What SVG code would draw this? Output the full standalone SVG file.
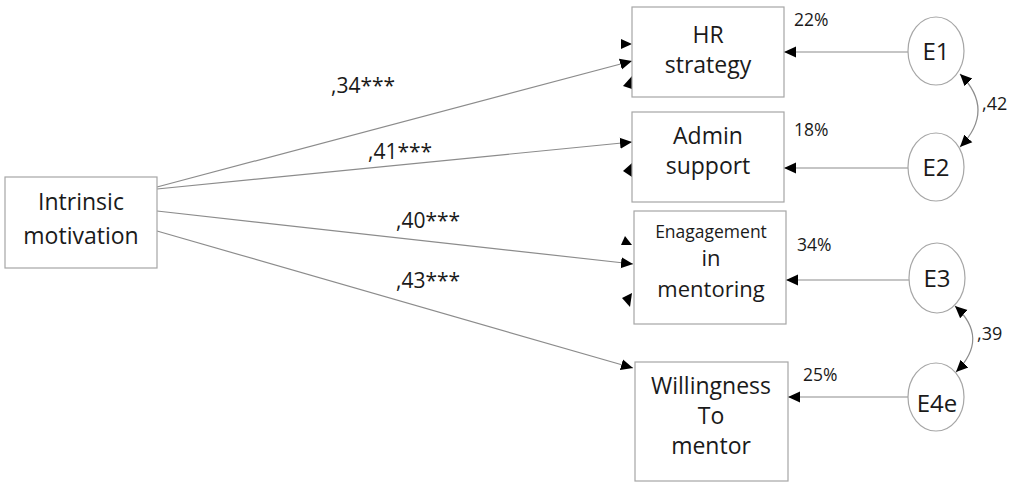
<svg xmlns="http://www.w3.org/2000/svg" width="1016" height="482" viewBox="0 0 1016 482">
<style>
.box{fill:#fff;stroke:#a6a6a6;stroke-width:1.2}
.ell{fill:#fff;stroke:#a6a6a6;stroke-width:1.2}
.t{font-family:"Open Sans","Liberation Sans",sans-serif;fill:#1a1a1a;text-anchor:middle}
.lbl{font-family:"Open Sans","Liberation Sans",sans-serif;fill:#1a1a1a}
.ln{fill:none;stroke:#8c8c8c;stroke-width:1.2}
.stray{fill:#000}
</style>
<defs>
<marker id="ah" markerUnits="userSpaceOnUse" markerWidth="13" markerHeight="13" viewBox="0 0 13 13" refX="12" refY="6.5" orient="auto-start-reverse">
<path d="M0,1 L12,6.5 L0,12 Z" fill="#000"/>
</marker>
</defs>
<rect width="1016" height="482" fill="#fff"/>
<g id="connectors">
<line class="ln" x1="157" y1="187" x2="632" y2="61" marker-end="url(#ah)"/>
<line class="ln" x1="157" y1="189" x2="632" y2="142" marker-end="url(#ah)"/>
<line class="ln" x1="157" y1="211" x2="633" y2="264" marker-end="url(#ah)"/>
<line class="ln" x1="157" y1="231" x2="633" y2="368" marker-end="url(#ah)"/>
<line class="ln" x1="908" y1="52" x2="784" y2="52" marker-end="url(#ah)"/>
<line class="ln" x1="908" y1="168" x2="784" y2="168" marker-end="url(#ah)"/>
<line class="ln" x1="909" y1="280" x2="786" y2="280" marker-end="url(#ah)"/>
<line class="ln" x1="908" y1="397" x2="788" y2="397" marker-end="url(#ah)"/>
<path class="ln" d="M960,74 Q996,110 960,147" marker-start="url(#ah)" marker-end="url(#ah)"/>
<path class="ln" d="M955,306 Q990,338 956,372" marker-start="url(#ah)" marker-end="url(#ah)"/>
<polygon class="stray" points="621,39 632,44 621,49"/>
<polygon class="stray" points="623,86 632,76 632,89"/>
<polygon class="stray" points="623,171 632,163 632,177"/>
<polygon class="stray" points="621,245 632,245 625,236"/>
<polygon class="stray" points="622,298 632,293 630,307"/>
<text class="lbl" x="331" y="93" font-size="21">,34***</text>
<text class="lbl" x="368" y="159" font-size="21">,41***</text>
<text class="lbl" x="396" y="228" font-size="21">,40***</text>
<text class="lbl" x="396" y="288" font-size="21">,43***</text>
<text class="lbl" x="794" y="26" font-size="17.5">22%</text>
<text class="lbl" x="794" y="136" font-size="17.5">18%</text>
<text class="lbl" x="797" y="251" font-size="17.5">34%</text>
<text class="lbl" x="803" y="381" font-size="17.5">25%</text>
<text class="lbl" x="982" y="110" font-size="18">,42</text>
<text class="lbl" x="977" y="340" font-size="18">,39</text>
</g>
<g id="intrinsic">
<rect class="box" x="5" y="177" width="152" height="91"/>
<text class="t" x="81" y="210" font-size="23">Intrinsic</text>
<text class="t" x="81" y="244" font-size="23">motivation</text>
</g>
<g id="hr">
<rect class="box" x="632" y="7" width="152" height="90"/>
<text class="t" x="708" y="43" font-size="23">HR</text>
<text class="t" x="708" y="73" font-size="23">strategy</text>
</g>
<g id="admin">
<rect class="box" x="632" y="112" width="152" height="90"/>
<text class="t" x="708" y="144" font-size="23">Admin</text>
<text class="t" x="708" y="174" font-size="23">support</text>
</g>
<g id="engagement">
<rect class="box" x="634" y="211" width="152" height="113"/>
<text class="t" x="711" y="238" font-size="17.5">Enagagement</text>
<text class="t" x="711" y="266" font-size="22">in</text>
<text class="t" x="711" y="297" font-size="22">mentoring</text>
</g>
<g id="willingness">
<rect class="box" x="635" y="362" width="153" height="119"/>
<text class="t" x="711" y="394" font-size="23">Willingness</text>
<text class="t" x="711" y="424" font-size="23">To</text>
<text class="t" x="711" y="454" font-size="23">mentor</text>
</g>
<g id="e1">
<ellipse class="ell" cx="936" cy="51" rx="28" ry="34"/>
<text class="t" x="936" y="60" font-size="24">E1</text>
</g>
<g id="e2">
<ellipse class="ell" cx="936" cy="167" rx="28" ry="34"/>
<text class="t" x="936" y="176" font-size="24">E2</text>
</g>
<g id="e3">
<ellipse class="ell" cx="937" cy="278" rx="28" ry="35"/>
<text class="t" x="937" y="287" font-size="24">E3</text>
</g>
<g id="e4e">
<ellipse class="ell" cx="936" cy="397" rx="28" ry="34"/>
<text class="t" x="937" y="412" font-size="24">E4e</text>
</g>
</svg>
